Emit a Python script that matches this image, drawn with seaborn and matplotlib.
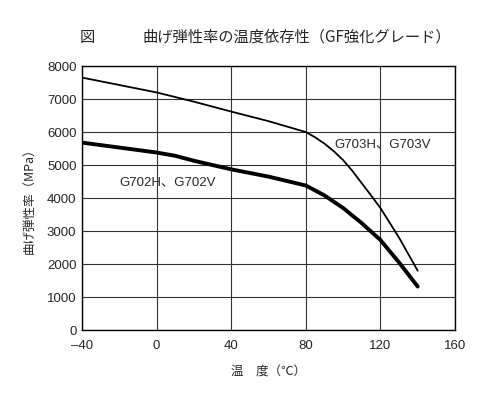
import pandas as pd
import matplotlib.pyplot as plt
import seaborn as sns

# values
temp_703 = [-40, 0, 20, 40, 60, 80, 85, 90, 95, 100, 105, 110, 115, 120, 130, 140]
mod_703 = [7650, 7200, 6920, 6620, 6330, 6000, 5840, 5650, 5420, 5150, 4820, 4450, 4080, 3700, 2800, 1800]
temp_702 = [-40, -20, 0, 10, 20, 40, 60, 80, 90, 100, 110, 120, 130, 140]
mod_702 = [5680, 5530, 5380, 5280, 5130, 4870, 4650, 4380, 4080, 3700, 3240, 2730, 2050, 1320]
x_ticks = [-40, 0, 40, 80, 120, 160]
y_ticks = [0, 1000, 2000, 3000, 4000, 5000, 6000, 7000, 8000]

sns.set_theme(style="white")
plt.rcParams['font.family'] = ['Noto Sans CJK JP', 'DejaVu Sans']

fig = plt.figure(figsize=(5, 3.93), dpi=100)
ax = fig.add_axes([0.164, 0.160, 0.746, 0.672])

df703 = pd.DataFrame({'temp': temp_703, 'mod': mod_703})
df702 = pd.DataFrame({'temp': temp_702, 'mod': mod_702})
sns.lineplot(x='temp', y='mod', data=df703, ax=ax, color='black', linewidth=1.3, sort=False)
sns.lineplot(x='temp', y='mod', data=df702, ax=ax, color='black', linewidth=2.8, sort=False)

ax.set_xlim(-40, 160)
ax.set_ylim(0, 8000)
ax.set_xticks(x_ticks)
ax.set_yticks(y_ticks)
ax.set_xticklabels(['–40', '0', '40', '80', '120', '160'], family='Liberation Sans', fontsize=9.5)
ax.set_yticklabels([str(v) for v in y_ticks], family='Liberation Sans', fontsize=9.5)
ax.tick_params(axis='x', length=0, pad=7)
ax.tick_params(axis='y', length=0, pad=4)
ax.grid(True, color='#333333', linewidth=0.8)
for s in ax.spines.values():
    s.set_color('black')
    s.set_linewidth(1.0)

ax.text(-20, 4480, 'G702H、G702V', fontsize=9.5, va='center', ha='left',
        family=['Liberation Sans', 'Noto Sans CJK JP'])
ax.text(95.5, 5640, 'G703H、G703V', fontsize=9.5, va='center', ha='left',
        family=['Liberation Sans', 'Noto Sans CJK JP'])

ax.set_xlabel('温　度（℃）', fontsize=9, labelpad=10)
ax.set_ylabel('曲げ弾性率（MPa）', fontsize=9, labelpad=8)

fig.text(0.174, 0.905, '図', fontsize=11, ha='center', va='center')
fig.text(0.286, 0.905, '曲げ弾性率の温度依存性（GF強化グレード）', fontsize=11, ha='left', va='center')

fig.savefig('out.png', dpi=100)
